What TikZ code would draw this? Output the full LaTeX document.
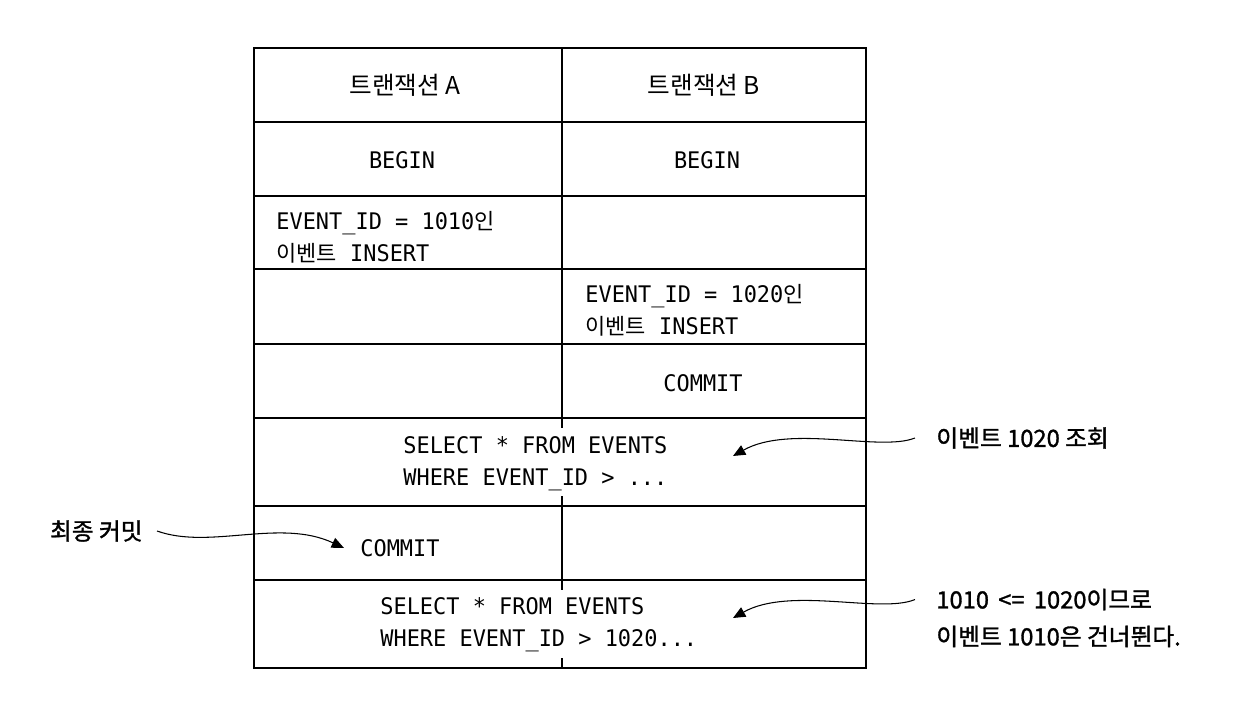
\documentclass[tikz,border=0pt]{standalone}
\usepackage{fontspec}
\setmonofont[FakeStretch=0.96]{DejaVu Sans Mono}
\newfontfamily\krfont{Noto Sans CJK KR}
\newfontfamily\krnote[FakeBold=1.3]{Noto Sans CJK KR}
\usetikzlibrary{arrows.meta}
\newcommand{\ko}[1]{{\krfont\fontsize{12.5pt}{18pt}\selectfont #1}}

\begin{document}
\begin{tikzpicture}[x=0.02cm,y=-0.02cm,
    cell/.style={inner sep=0pt,font=\ttfamily\fontsize{13pt}{18pt}\selectfont,align=left},
    head/.style={inner sep=0pt,font=\krfont\fontsize{14pt}{17pt}\selectfont},
    note/.style={inner sep=0pt,font=\krnote\fontsize{13.5pt}{21pt}\selectfont,align=left},
    callout/.style={line width=0.6pt,-{Triangle[length=7pt,width=6pt]}}]
    \useasboundingbox (0,0) rectangle (1256,705);
    % table frame
    \draw[line width=1.3pt] (254,48) rectangle (866,668);
    \foreach \y in {122,196,269,344,418,506,580}
        \draw[line width=1.3pt] (254,\y) -- (866,\y);
    \draw[line width=1.3pt] (562,48) -- (562,418);
    \draw[line width=1.3pt] (562,506) -- (562,580);
    % small stubs in the merged rows
    \draw[line width=1.3pt] (562,418) -- (562,428);
    \draw[line width=1.3pt] (562,496) -- (562,506);
    \draw[line width=1.3pt] (562,580) -- (562,590);
    \draw[line width=1.3pt] (562,658) -- (562,668);

    \node[head] (ha) at (405,85) {트랜잭션 A};
    \node[head] (hb) at (704,85) {트랜잭션 B};
    \node[cell] (ba) at (402,160) {BEGIN};
    \node[cell] (bb) at (707,160) {BEGIN};
    \node[cell,anchor=west] (insa) at (276,237) {EVENT\_ID = 1010\ko{인}\\\ko{이벤트} INSERT};
    \node[cell,anchor=west] (insb) at (585,310) {EVENT\_ID = 1020\ko{인}\\\ko{이벤트} INSERT};
    \node[cell] (cb) at (703,383) {COMMIT};
    \node[cell,anchor=west] (sel1) at (403,464) {SELECT * FROM EVENTS\\WHERE EVENT\_ID > ...};
    \node[cell,anchor=west] (ca) at (360,548) {COMMIT};
    \node[cell,anchor=west] (sel2) at (380,625) {SELECT * FROM EVENTS\\WHERE EVENT\_ID > 1020...};

    % notes
    \node[note,anchor=west] (n1) at (936,438) {이벤트 1020 조회};
    \node[note,anchor=west] (n2) at (936,618) {1010 \,<=\, 1020이므로\\이벤트 1010은 건너뛴다.};
    \node[note,anchor=east] (n3) at (143,531) {최종 커밋};
    \coordinate (t1) at (733,456);
    \coordinate (t2) at (733,618);
    \coordinate (t3) at (344,548);
    \draw[callout] ([xshift=-12pt]n1.west) .. controls (880,452) and (790,424) .. (t1);
    \draw[callout] ([xshift=-12pt,yshift=10.5pt]n2.west) .. controls (880,614) and (790,586) .. (t2);
    \draw[callout] ([xshift=8pt]n3.east) .. controls (210,550) and (280,518) .. (t3);
\end{tikzpicture}
\end{document}
